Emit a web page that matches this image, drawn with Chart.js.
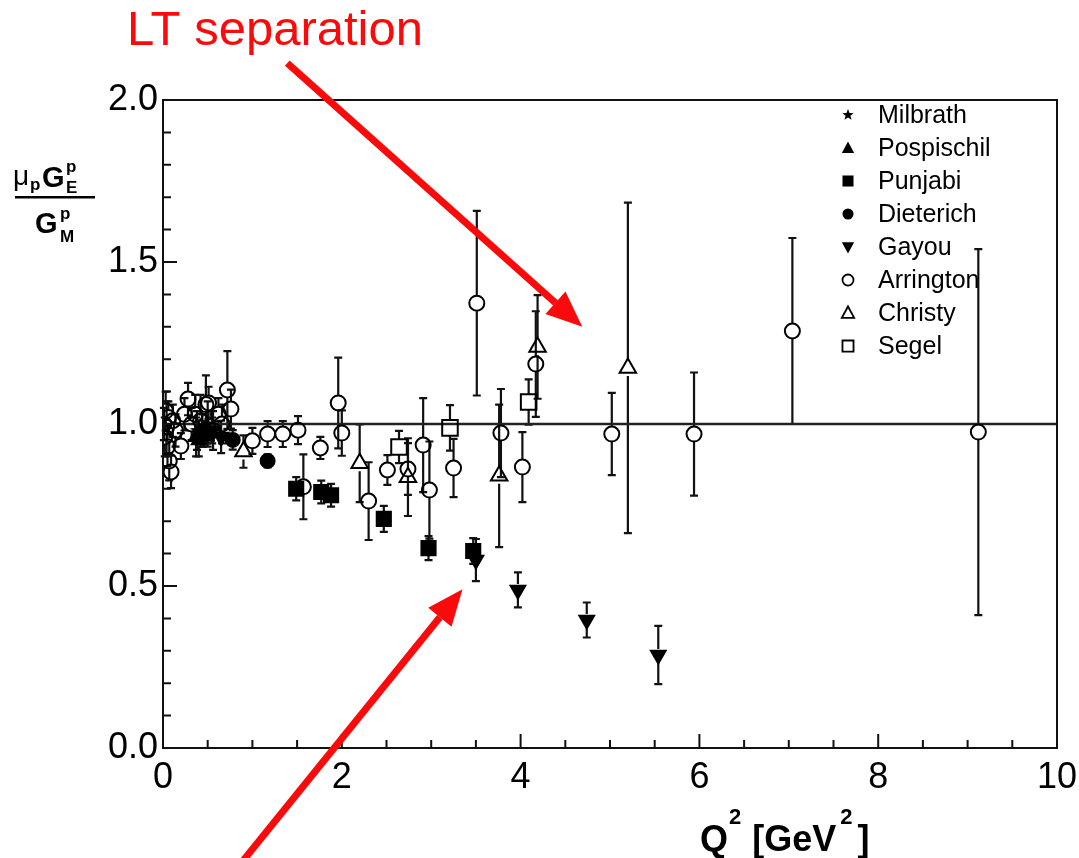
<!DOCTYPE html>
<html><head><meta charset="utf-8">
<script src="https://cdn.jsdelivr.net/npm/chart.js@4.4.1/dist/chart.umd.min.js"></script>
<style>html,body{margin:0;padding:0;background:#fff;}#wrap{position:relative;width:1079px;height:858px;}</style>
</head><body><div id="wrap"><canvas id="c"></canvas></div>
<script>
// ---------- data ----------
const xTickValues=[0,2,4,6,8,10];
const yTickValues=[0,0.5,1.0,1.5,2.0];
const seriesNames=["Milbrath","Pospischil","Punjabi","Dieterich","Gayou","Arrington","Christy","Segel"];

const milbrathQ2=[0.38,0.50];
const milbrathR=[0.98,1.00];
const milbrathErr=[0.06,0.07];

const pospischilQ2=[0.37,0.40,0.44];
const pospischilR=[0.96,0.95,0.98];
const pospischilErr=[0.06,0.05,0.05];

const punjabiQ2=[0.49,1.49,1.77,1.88,2.47,2.97,3.47];
const punjabiR=[0.97,0.80,0.79,0.78,0.707,0.617,0.608];
const punjabiErr=[0.03,0.036,0.035,0.035,0.04,0.037,0.04];

const dieterichQ2=[0.45,0.78,1.17];
const dieterichR=[0.97,0.951,0.886];
const dieterichErr=[0.04,0.03,0.02];

const gayouQ2=[0.55,0.65,3.50,3.97,4.74,5.54];
const gayouR=[0.98,0.96,0.58,0.488,0.395,0.287];
const gayouErr=[0.04,0.05,0.065,0.054,0.054,0.09];

const arringtonQ2=[0.01,0.02,0.03,0.04,0.05,0.06,0.07,0.09,0.11,0.14,0.20,0.24,0.28,0.32,0.36,0.42,0.48,0.51,0.56,0.62,0.66,0.72,0.76,1.00,1.17,1.34,1.51,1.57,1.76,1.96,2.00,2.30,2.51,2.74,2.91,2.98,3.25,3.51,3.78,4.02,4.17,5.02,5.94,7.04,9.12];
const arringtonR=[1.00,0.96,1.04,0.99,0.93,1.02,0.886,0.852,1.01,0.98,0.932,1.03,1.077,1.00,1.03,1.01,1.06,1.065,0.98,1.03,1.00,1.105,1.046,0.948,0.969,0.969,0.981,0.806,0.926,1.065,0.972,0.762,0.858,0.861,0.935,0.796,0.864,1.373,0.972,0.867,1.185,0.969,0.969,1.287,0.975];
const arringtonErr=[0.05,0.06,0.06,0.08,0.06,0.05,0.06,0.05,0.05,0.05,0.04,0.05,0.05,0.05,0.06,0.08,0.09,0.05,0.06,0.05,0.06,0.12,0.06,0.04,0.04,0.04,0.043,0.10,0.034,0.14,0.07,0.12,0.046,0.08,0.145,0.15,0.09,0.285,0.136,0.108,0.163,0.127,0.19,0.287,0.565];

const christyQ2=[0.90,2.20,2.74,3.76,4.19,5.20];
const christyR=[0.915,0.879,0.836,0.84,1.238,1.173];
const christyErr=[0.05,0.12,0.12,0.22,0.16,0.51];

const segelQ2=[2.64,3.21,4.09];
const segelR=[0.929,0.988,1.068];
const segelErr=[0.05,0.07,0.07];

const refLineQ2=[0,10];
const refLineR=[1,1];

// annotation anchors (data coordinates)
const ltArrowFrom=[1.39,2.114], ltArrowTo=[4.69,1.30];
const ppArrowFrom=[0.86,-0.36], ppArrowTo=[3.35,0.49];

// ---------- helpers ----------
const FONT='"Liberation Sans", Arial, Helvetica, sans-serif';
function pts(xs,ys){return xs.map((x,i)=>({x:x,y:ys[i]}));}
function makeStar(size){
  const c=document.createElement('canvas');c.width=c.height=size;
  const g=c.getContext('2d');g.fillStyle='#000';g.beginPath();
  const R=size/2,r=R*0.42;
  for(let k=0;k<10;k++){const a=-Math.PI/2+k*Math.PI/5;const rr=k%2?r:R;g.lineTo(R+rr*Math.cos(a),R+rr*Math.sin(a));}
  g.closePath();g.fill();return c;
}
const starImg=makeStar(15);
const starLegend=makeStar(12);

function ds(label,xs,ys,errs,style,filled,radius,gap,rotation){
  return {type:'scatter',label:label,data:pts(xs,ys),errors:errs,gap:gap,
    pointStyle:style,rotation:rotation||0,pointRadius:radius,pointHoverRadius:radius,
    pointBorderWidth:2,borderColor:'#000',pointBorderColor:'#000',
    pointBackgroundColor:filled?'#000':'rgba(0,0,0,0)',backgroundColor:filled?'#000':'rgba(0,0,0,0)',
    showLine:false,order:1};
}

const datasets=[
  {type:'line',label:'ref',data:pts(refLineQ2,refLineR),borderColor:'#222',borderWidth:2.5,pointRadius:0,fill:false,order:2},
  ds(seriesNames[0],milbrathQ2,milbrathR,milbrathErr,starImg,true,7,6),
  ds(seriesNames[1],pospischilQ2,pospischilR,pospischilErr,'triangle',true,8,6),
  ds(seriesNames[2],punjabiQ2,punjabiR,punjabiErr,'rect',true,10,7),
  ds(seriesNames[3],dieterichQ2,dieterichR,dieterichErr,'circle',true,7,6),
  ds(seriesNames[4],gayouQ2,gayouR,gayouErr,'triangle',true,8.5,6,180),
  ds(seriesNames[5],arringtonQ2,arringtonR,arringtonErr,'circle',false,7.5,8),
  ds(seriesNames[6],christyQ2,christyR,christyErr,'triangle',false,9.5,8),
  ds(seriesNames[7],segelQ2,segelR,segelErr,'rect',false,11,8)
];

function drawMarker(ctx,kind,x,y,r){
  ctx.save();ctx.fillStyle='#000';ctx.strokeStyle='#000';ctx.lineWidth=1.8;
  if(kind==='star'){ctx.drawImage(starLegend,x-starLegend.width/2,y-starLegend.height/2);ctx.restore();return;}
  ctx.beginPath();
  if(kind==='triUp'||kind==='triUpO'){ctx.moveTo(x,y-r);ctx.lineTo(x+r*0.95,y+r*0.75);ctx.lineTo(x-r*0.95,y+r*0.75);ctx.closePath();}
  else if(kind==='triDown'){ctx.moveTo(x,y+r);ctx.lineTo(x+r*0.95,y-r*0.75);ctx.lineTo(x-r*0.95,y-r*0.75);ctx.closePath();}
  else if(kind==='sq'||kind==='sqO'){ctx.rect(x-r*0.85,y-r*0.85,r*1.7,r*1.7);}
  else {ctx.arc(x,y,r*0.85,0,Math.PI*2);}
  if(kind.endsWith('O')) ctx.stroke(); else ctx.fill();
  ctx.restore();
}
const legendKinds=['star','triUp','sq','dot','triDown','circO','triUpO','sqO'];

const customPlugin={
  id:'custom',
  beforeDatasetsDraw(chart){
    const ctx=chart.ctx,xs=chart.scales.x,ys=chart.scales.y;
    ctx.save();ctx.strokeStyle='#111';ctx.lineWidth=2.2;ctx.lineCap='butt';
    chart.data.datasets.forEach(d=>{
      if(!d.errors) return;
      d.data.forEach((p,i)=>{
        const e=d.errors[i];
        const px=xs.getPixelForValue(p.x),py=ys.getPixelForValue(p.y);
        const top=ys.getPixelForValue(p.y+e),bot=ys.getPixelForValue(p.y-e);
        const g=d.gap;
        ctx.beginPath();
        if(top<py-g){ctx.moveTo(px,top);ctx.lineTo(px,py-g);}
        if(bot>py+g){ctx.moveTo(px,py+g);ctx.lineTo(px,bot);}
        ctx.moveTo(px-4,top);ctx.lineTo(px+4,top);
        ctx.moveTo(px-4,bot);ctx.lineTo(px+4,bot);
        ctx.stroke();
      });
    });
    ctx.restore();
  },
  afterDatasetsDraw(chart){
    const ctx=chart.ctx,a=chart.chartArea,xs=chart.scales.x,ys=chart.scales.y;
    ctx.save();ctx.strokeStyle='#111';ctx.lineWidth=2;
    ctx.strokeRect(a.left,a.top,a.right-a.left,a.bottom-a.top);
    ctx.beginPath();
    for(let k=0;k<=20;k++){const v=k*0.5;const px=xs.getPixelForValue(v);const L=(k%4===0)?14:8;ctx.moveTo(px,a.bottom);ctx.lineTo(px,a.bottom-L);}
    for(let k=0;k<=20;k++){const v=k*0.1;const py=ys.getPixelForValue(v);const L=(k%5===0)?14:8;ctx.moveTo(a.left,py);ctx.lineTo(a.left+L,py);}
    ctx.stroke();
    ctx.fillStyle='#000';ctx.font='25px '+FONT;ctx.textBaseline='middle';ctx.textAlign='left';
    seriesNames.forEach((n,i)=>{
      const y=a.top+15+i*33;
      drawMarker(ctx,legendKinds[i],a.right-209,y,6.5);
      ctx.fillText(n,a.right-179,y+1);
    });
    ctx.restore();
  },
  afterDraw(chart){
    const ctx=chart.ctx,xs=chart.scales.x,ys=chart.scales.y;
    ctx.save();
    ctx.fillStyle='#000';ctx.textBaseline='alphabetic';ctx.textAlign='left';
    ctx.font='28px '+FONT;ctx.fillText('\u03bc',13,185);
    ctx.font='bold 17px '+FONT;ctx.fillText('p',30,190);
    ctx.font='bold 29px '+FONT;ctx.fillText('G',42,187);
    ctx.font='bold 17px '+FONT;ctx.fillText('p',66,172);ctx.fillText('E',66,193);
    ctx.fillRect(15,196,80,2.5);
    ctx.font='bold 29px '+FONT;ctx.fillText('G',35,233);
    ctx.font='bold 17px '+FONT;ctx.fillText('p',60,219);ctx.fillText('M',60,242);
    let x=700;const base=851;
    ctx.font='bold 36px '+FONT;ctx.fillText('Q',x,base);x+=ctx.measureText('Q').width+1;
    ctx.font='bold 22px '+FONT;ctx.fillText('2',x,base-27);x+=ctx.measureText('2').width+11;
    ctx.font='bold 36px '+FONT;ctx.fillText('[GeV',x,base);x+=ctx.measureText('[GeV').width+4;
    ctx.font='bold 22px '+FONT;ctx.fillText('2',x,base-27);x+=ctx.measureText('2').width+5;
    ctx.font='bold 36px '+FONT;ctx.fillText(']',x,base);
    const red='rgb(250,10,10)';
    ctx.fillStyle=red;ctx.font='49px '+FONT;ctx.fillText('LT separation',127,45);
    function arrow(f,t){
      const x1=xs.getPixelForValue(f[0]),y1=ys.getPixelForValue(f[1]);
      const x2=xs.getPixelForValue(t[0]),y2=ys.getPixelForValue(t[1]);
      const ang=Math.atan2(y2-y1,x2-x1),hl=36,hw=15;
      const bx=x2-hl*Math.cos(ang),by=y2-hl*Math.sin(ang);
      ctx.strokeStyle=red;ctx.lineWidth=7;ctx.beginPath();ctx.moveTo(x1,y1);ctx.lineTo(bx,by);ctx.stroke();
      ctx.fillStyle=red;ctx.beginPath();ctx.moveTo(x2,y2);
      ctx.lineTo(bx+hw*Math.sin(ang),by-hw*Math.cos(ang));
      ctx.lineTo(bx-hw*Math.sin(ang),by+hw*Math.cos(ang));ctx.closePath();ctx.fill();
    }
    arrow(ltArrowFrom,ltArrowTo);
    arrow(ppArrowFrom,ppArrowTo);
    ctx.restore();
  }
};

new Chart(document.getElementById('c'),{
  data:{datasets:datasets},
  options:{
    responsive:true,maintainAspectRatio:false,animation:false,
    layout:{padding:{left:0,top:100,right:22,bottom:0}},
    plugins:{legend:{display:false},tooltip:{enabled:false}},
    scales:{
      x:{type:'linear',min:0,max:10,
        afterBuildTicks(s){s.ticks=xTickValues.map(v=>({value:v}));},
        afterFit(s){s.height=110;s.paddingRight=0;s.paddingLeft=0;},
        ticks:{font:{family:FONT,size:36},color:'#000',padding:8,maxRotation:0,autoSkip:false,callback:v=>String(v)},
        grid:{display:false,drawTicks:false},border:{display:false}},
      y:{type:'linear',min:0,max:2,
        afterBuildTicks(s){s.ticks=yTickValues.map(v=>({value:v}));},
        afterFit(s){s.width=163;s.paddingTop=0;s.paddingBottom=0;},
        ticks:{font:{family:FONT,size:36},color:'#000',padding:5,autoSkip:false,callback:v=>Number(v).toFixed(1)},
        grid:{display:false,drawTicks:false},border:{display:false}}
    }
  },
  plugins:[customPlugin]
});
</script></body></html>
